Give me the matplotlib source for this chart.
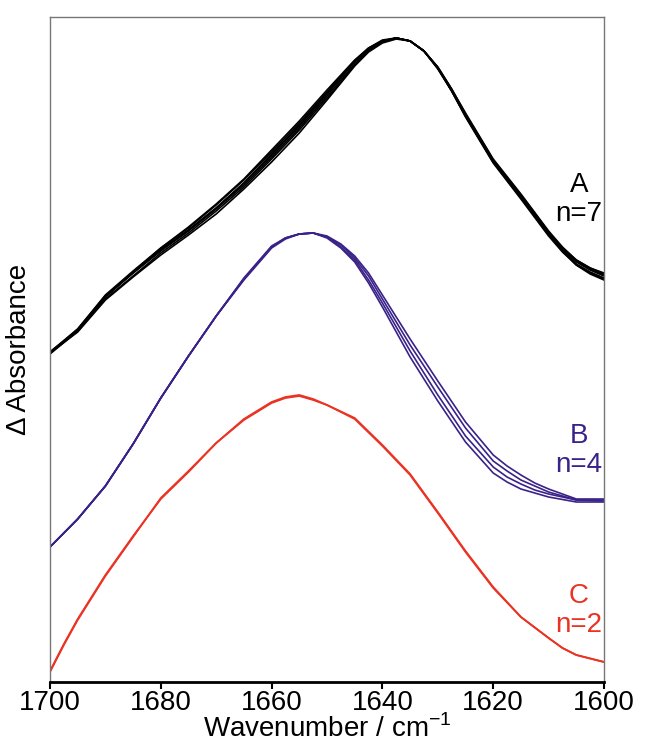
import numpy as np
import matplotlib
matplotlib.use("Agg")
import matplotlib.pyplot as plt

plt.rcParams['font.family'] = ['Liberation Sans', 'DejaVu Sans']

# spettri A (n=7), nero
wn_A = [1700, 1695, 1690, 1685, 1680, 1675, 1670, 1665, 1660, 1655, 1650, 1647.5,
        1645, 1642.5, 1640, 1637.5, 1635, 1632.5, 1630, 1627.5, 1625, 1622.5,
        1620, 1615, 1610, 1607.5, 1605, 1602.5, 1600]
A1 = [.329, .352, .385, .409, .432, .452, .474, .499, .527, .556, .588, .604,
      .620, .633, .641, .644, .641, .631, .614, .592, .567, .544,
      .521, .486, .449, .433, .420, .412, .406]
A2 = [.330, .353, .387, .411, .434, .454, .477, .502, .530, .559, .590, .606,
      .621, .634, .641, .644, .641, .631, .614, .591, .566, .543,
      .520, .485, .448, .432, .418, .410, .404]
A3 = [.329, .351, .383, .406, .429, .449, .471, .495, .523, .552, .584, .600,
      .617, .631, .640, .644, .641, .631, .615, .593, .568, .545,
      .522, .487, .450, .434, .421, .413, .407]
A4 = [.328, .351, .385, .410, .434, .455, .478, .503, .532, .561, .592, .607,
      .622, .634, .642, .644, .641, .631, .614, .592, .567, .544,
      .521, .487, .450, .434, .422, .414, .409]
A5 = [.329, .350, .382, .405, .427, .447, .468, .493, .520, .549, .582, .599,
      .616, .630, .639, .643, .641, .631, .614, .591, .566, .543,
      .520, .484, .447, .431, .417, .409, .403]
A6 = [.330, .352, .386, .409, .431, .451, .473, .497, .525, .554, .586, .602,
      .618, .632, .640, .644, .641, .631, .615, .593, .569, .546,
      .523, .488, .451, .435, .422, .414, .408]
A7 = [.329, .353, .386, .410, .433, .452, .474, .499, .528, .557, .589, .605,
      .621, .633, .641, .644, .641, .631, .613, .591, .565, .542,
      .519, .483, .446, .430, .417, .408, .402]

# spettri B (n=4), blu
wn_B = [1700, 1695, 1690, 1685, 1680, 1675, 1670, 1665, 1660, 1657.5, 1655, 1652.5,
        1650, 1647.5, 1645, 1642.5, 1640, 1635, 1630, 1625, 1620, 1617.5,
        1615, 1612.5, 1610, 1605, 1600]
B1 = [.135, .163, .196, .238, .284, .326, .366, .404, .436, .444, .448, .449,
      .446, .438, .426, .409, .387, .343, .301, .260, .227, .216,
      .207, .199, .193, .183, .183]
B2 = [.135, .163, .196, .238, .284, .326, .366, .403, .435, .444, .448, .449,
      .445, .437, .424, .406, .383, .337, .295, .254, .221, .211,
      .202, .196, .190, .182, .182]
B3 = [.135, .163, .196, .238, .284, .326, .366, .403, .435, .444, .448, .449,
      .445, .435, .422, .402, .379, .331, .287, .246, .215, .205,
      .198, .192, .188, .182, .181]
B4 = [.135, .163, .196, .238, .284, .326, .366, .402, .434, .443, .448, .449,
      .444, .434, .420, .399, .375, .325, .281, .240, .209, .200,
      .193, .189, .185, .180, .180]

# spettri C (n=2), rosso
wn_C = [1700, 1697.5, 1695, 1690, 1685, 1680, 1675, 1670, 1665, 1660, 1657.5,
        1655, 1652.5, 1650, 1645, 1640, 1635, 1630, 1625, 1620, 1615,
        1610, 1607.5, 1605, 1600]
C1 = [.010, .037, .062, .106, .145, .184, .211, .239, .262, .279, .284,
      .286, .282, .277, .264, .237, .208, .170, .131, .095, .065,
      .044, .034, .027, .020]
C2 = [.011, .038, .063, .107, .146, .183, .210, .239, .263, .280, .285,
      .287, .283, .277, .263, .236, .207, .169, .130, .094, .065,
      .044, .034, .027, .020]

col_A = "black"
col_B = "#3a2288"
col_C = "#ea3322"

fig = plt.figure(figsize=(6.46, 7.46), dpi=100)
ax = fig.add_axes([0.0774, 0.0858, 0.8576, 0.8914])

for y in [A1, A2, A3, A4, A5, A6, A7]:
    ax.plot(wn_A, y, color=col_A, lw=1.2)
for y in [B1, B2, B3, B4]:
    ax.plot(wn_B, y, color=col_B, lw=1.2)
for y in [C1, C2]:
    ax.plot(wn_C, y, color=col_C, lw=1.3)

ax.set_xlim(1700, 1600)
ax.set_ylim(0, 0.665)
ax.set_xticks([1700, 1680, 1660, 1640, 1620, 1600])
ax.set_yticks([])
ax.tick_params(axis="x", direction="out", length=5, width=1.5, labelsize=20, pad=1)

for s in ["left", "right", "top"]:
    ax.spines[s].set_color("#777777")
    ax.spines[s].set_linewidth(1.0)
ax.spines["bottom"].set_linewidth(2.0)
ax.spines["bottom"].set_color("black")

ax.set_xlabel("Wavenumber / cm$^{\\mathregular{-1}}$", fontsize=20, labelpad=-1)
ax.set_ylabel("\u0394 Absorbance", fontsize=20, labelpad=13)

ax.text(1600.3, 0.483, "A\nn=7", color=col_A, fontsize=20, ha="right", va="center",
        multialignment="center", linespacing=1.15)
ax.text(1600.3, 0.231, "B\nn=4", color=col_B, fontsize=20, ha="right", va="center",
        multialignment="center", linespacing=1.15)
ax.text(1600.3, 0.071, "C\nn=2", color=col_C, fontsize=20, ha="right", va="center",
        multialignment="center", linespacing=1.15)

fig.savefig("out.png", dpi=100)
